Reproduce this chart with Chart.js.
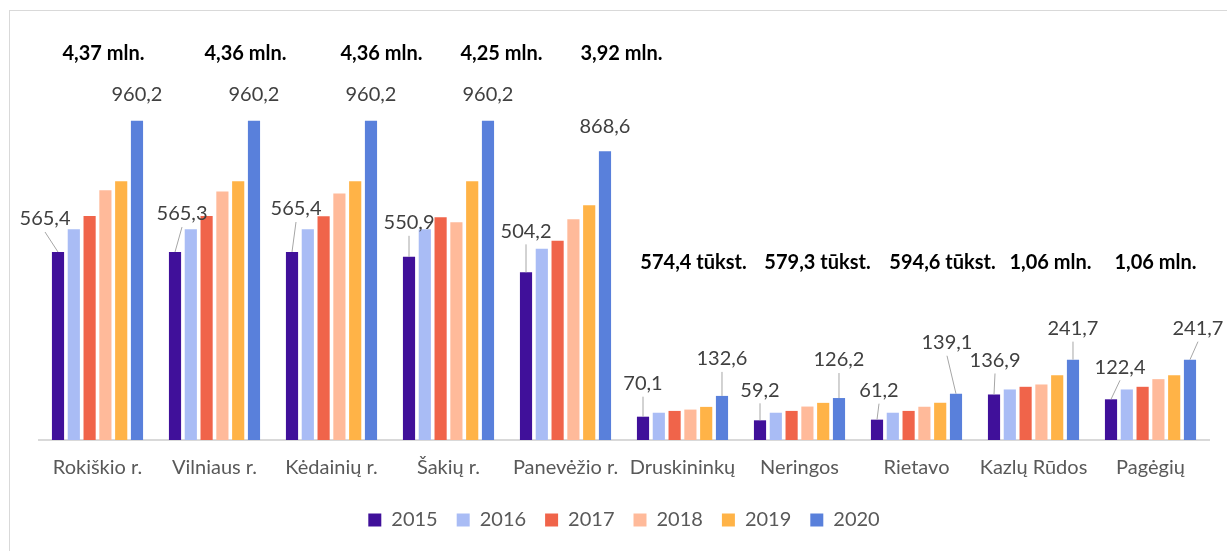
<!DOCTYPE html>
<html lang="lt">
  <head>
    <meta charset="UTF-8" />
    <script src="https://cdn.jsdelivr.net/npm/chart.js"></script>
    <title>Savivaldybės</title>
    <style>
      html, body { margin: 0; padding: 0; background: #fff; }
      #wrap { width: 1227px; height: 551px; }
    </style>
  </head>
  <body>
    <div id="wrap"><canvas id="myChart" width="1227" height="551"></canvas></div>
    <script>
      // duomenys
      var savivaldybes = ["Rokiškio r.", "Vilniaus r.", "Kėdainių r.", "Šakių r.", "Panevėžio r.",
        "Druskininkų", "Neringos", "Rietavo", "Kazlų Rūdos", "Pagėgių"];
      var metai = ["2015", "2016", "2017", "2018", "2019", "2020"];
      var v2015 = [565.4, 565.3, 565.4, 550.9, 504.2, 70.1, 59.2, 61.2, 136.9, 122.4];
      var v2016 = [634, 634, 634, 634, 575, 82, 82, 82, 152, 152];
      var v2017 = [674, 674, 673, 670, 599, 87.5, 87.5, 87.5, 160, 160];
      var v2018 = [751, 747, 741, 655, 664, 91.5, 100.6, 100, 167, 183];
      var v2019 = [778, 778, 778, 778, 706, 99.6, 111.7, 112, 195, 195];
      var v2020 = [960.2, 960.2, 960.2, 960.2, 868.6, 132.6, 126.2, 139.1, 241.7, 241.7];
      var sumos = ["4,37 mln.", "4,36 mln.", "4,36 mln.", "4,25 mln.", "3,92 mln.",
        "574,4 tūkst.", "579,3 tūkst.", "594,6 tūkst.", "1,06 mln.", "1,06 mln."];

      var spalvos = ["#40109A", "#A9BCF5", "#F0644A", "#FFBA9A", "#FFB347", "#5980DB"];

      // label nudges (px) relative to bar top
      var nudge2015 = [[-13, -33], [7, -38], [4, -43], [0, -34], [0, -41], [0, -33], [0, -30], [2, -29], [1, -34], [9, -32]];
      var nudge2020 = [[0, -26], [0, -26], [0, -26], [0, -26], [0, -25], [0, -37], [0, -38], [-9, -51], [0, -31], [8, -31]];
      var sumDx = [6, 31, 50, 53, 56, 11, 18, 26, 17, 5];

      function fmt(v) {
        return v.toFixed(1).replace(".", ",");
      }

      var remelis = {
        id: "remelis",
        beforeDraw: function (chart) {
          var c = chart.ctx;
          c.save();
          c.strokeStyle = "#D9D9D9";
          c.lineWidth = 1;
          c.strokeRect(9.5, 10.5, 1240, 560);
          c.restore();
        },
      };

      var etiketes = {
        id: "etiketes",
        afterDatasetsDraw: function (chart) {
          var c = chart.ctx;
          var y = chart.scales.y;
          c.save();
          c.textAlign = "center";
          c.textBaseline = "middle";
          [[0, v2015, nudge2015], [5, v2020, nudge2020]].forEach(function (d) {
            var meta = chart.getDatasetMeta(d[0]);
            meta.data.forEach(function (bar, i) {
              var lx = bar.x + d[2][i][0];
              var ly = bar.y + d[2][i][1];
              if (bar.y - (ly + 13) > 14) {
                c.strokeStyle = "#A6A6A6";
                c.lineWidth = 1;
                c.beginPath();
                c.moveTo(lx, ly + 13);
                c.lineTo(bar.x, bar.y);
                c.stroke();
              }
              c.fillStyle = "#404040";
              c.font = "20px Lato";
              c.fillText(fmt(d[1][i]), lx, ly);
            });
          });
          // sumos virš grupių
          c.fillStyle = "#000";
          c.font = "bold 20px Lato";
          var x = chart.scales.x;
          sumos.forEach(function (s, i) {
            var row = v2020[i] > 500 ? 1163 : 533;
            c.fillText(s, x.getPixelForValue(i) + sumDx[i], y.getPixelForValue(row));
          });
          c.restore();
        },
      };

      var ctx = document.getElementById("myChart");
      var duom = [v2015, v2016, v2017, v2018, v2019, v2020];
      var myChart = new Chart(ctx, {
        type: "bar",
        data: {
          labels: savivaldybes,
          datasets: metai.map(function (m, k) {
            return {
              label: m,
              data: duom[k],
              backgroundColor: spalvos[k],
              borderWidth: 0,
              categoryPercentage: 0.81,
              barPercentage: 0.77,
            };
          }),
        },
        options: {
          responsive: false,
          animation: false,
          layout: { padding: { left: 39, right: 18, top: 41, bottom: 11 } },
          scales: {
            x: {
              grid: { display: false },
              border: { display: true, color: "#D9D9D9", width: 2 },
              ticks: { color: "#595959", font: { family: "Lato", size: 20 }, padding: 8 },
              afterFit: function (s) {
                s.height += 3;
              },
            },
            y: {
              display: false,
              min: 0,
              max: 1200,
            },
          },
          plugins: {
            legend: {
              position: "bottom",
              labels: {
                color: "#595959",
                font: { family: "Lato", size: 20 },
                boxWidth: 13,
                boxHeight: 13,
                padding: 19,
              },
            },
            tooltip: { enabled: false },
          },
        },
        plugins: [remelis, etiketes],
      });
    </script>
  </body>
</html>
